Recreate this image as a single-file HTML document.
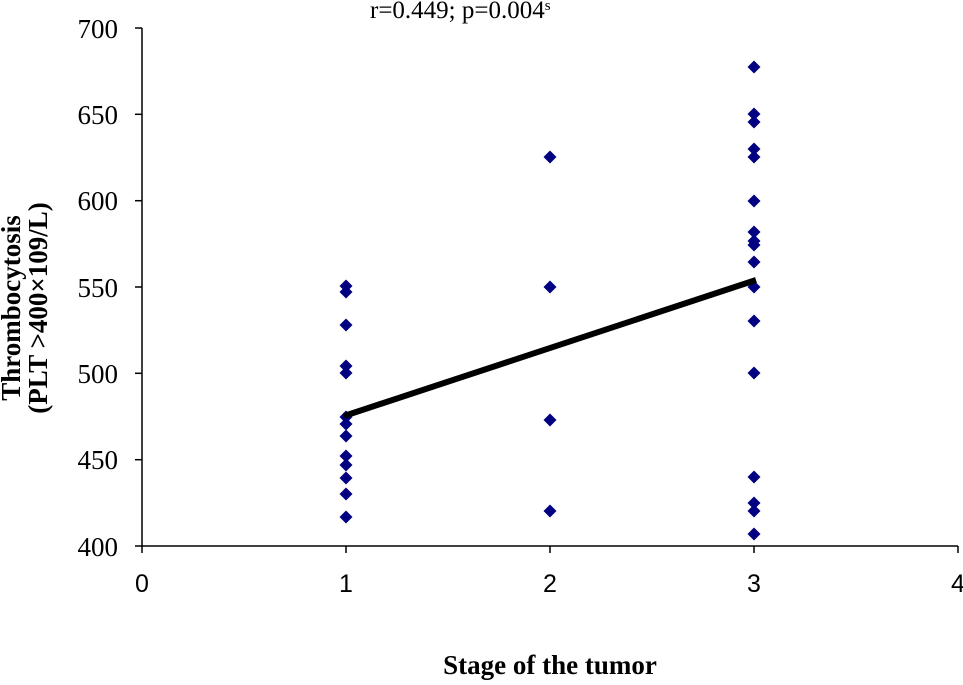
<!DOCTYPE html>
<html><head><meta charset="utf-8"><style>
html,body{margin:0;padding:0;background:#fff;}
</style></head><body>
<svg width="963" height="680" xmlns="http://www.w3.org/2000/svg">
<defs><path id="d" d="M0,-6.5 L6.5,0 L0,6.5 L-6.5,0 Z" fill="#000080"/></defs>
<text x="370" y="18" font-family="Liberation Serif, serif" font-size="25">r=0.449; p=0.004<tspan font-size="15" dy="-8">s</tspan></text>
<g stroke="#000" stroke-width="1.5" fill="none">
<line x1="142" y1="28" x2="142" y2="546"/>
<line x1="135" y1="546" x2="958" y2="546"/>
<line x1="135" y1="28" x2="142" y2="28"/>
<line x1="135" y1="114.3" x2="142" y2="114.3"/>
<line x1="135" y1="200.7" x2="142" y2="200.7"/>
<line x1="135" y1="287" x2="142" y2="287"/>
<line x1="135" y1="373.3" x2="142" y2="373.3"/>
<line x1="135" y1="459.7" x2="142" y2="459.7"/>
<line x1="142" y1="546" x2="142" y2="553"/>
<line x1="346" y1="546" x2="346" y2="553"/>
<line x1="550" y1="546" x2="550" y2="553"/>
<line x1="754" y1="546" x2="754" y2="553"/>
<line x1="958" y1="546" x2="958" y2="553"/>
</g>
<g font-family="Liberation Serif, serif" font-size="27" text-anchor="end">
<text x="118" y="38">700</text><text x="118" y="124">650</text><text x="118" y="210">600</text>
<text x="118" y="297">550</text><text x="118" y="383">500</text><text x="118" y="469">450</text><text x="118" y="556">400</text>
</g>
<g font-family="Liberation Sans, sans-serif" font-size="25" text-anchor="middle">
<text x="142" y="592">0</text><text x="346" y="592">1</text><text x="550" y="592">2</text><text x="754" y="592">3</text><text x="958" y="592">4</text>
</g>
<g>
<use href="#d" x="346" y="286"/><use href="#d" x="346" y="292"/><use href="#d" x="346" y="325"/>
<use href="#d" x="346" y="366"/><use href="#d" x="346" y="373"/><use href="#d" x="346" y="417"/>
<use href="#d" x="346" y="424"/><use href="#d" x="346" y="436"/><use href="#d" x="346" y="456"/>
<use href="#d" x="346" y="465"/><use href="#d" x="346" y="478"/><use href="#d" x="346" y="494"/>
<use href="#d" x="346" y="517"/>
<use href="#d" x="550" y="157"/><use href="#d" x="550" y="287"/><use href="#d" x="550" y="420"/><use href="#d" x="550" y="511"/>
<use href="#d" x="754" y="67"/><use href="#d" x="754" y="114"/><use href="#d" x="754" y="122"/>
<use href="#d" x="754" y="149"/><use href="#d" x="754" y="157"/><use href="#d" x="754" y="201"/>
<use href="#d" x="754" y="232"/><use href="#d" x="754" y="241"/><use href="#d" x="754" y="245"/>
<use href="#d" x="754" y="262"/><use href="#d" x="754" y="287"/><use href="#d" x="754" y="321"/>
<use href="#d" x="754" y="373"/><use href="#d" x="754" y="477"/><use href="#d" x="754" y="503"/>
<use href="#d" x="754" y="511"/><use href="#d" x="754" y="534"/>
</g>
<line x1="344" y1="416" x2="756" y2="280" stroke="#000" stroke-width="6"/>
<g font-family="Liberation Serif, serif" font-size="27" font-weight="bold" text-anchor="middle">
<text transform="translate(20,308) rotate(-90)">Thrombocytosis</text>
<text transform="translate(47,308) rotate(-90)">(PLT &gt;400×109/L)</text>
<text x="550" y="674">Stage of the tumor</text>
</g>
</svg>
</body></html>
